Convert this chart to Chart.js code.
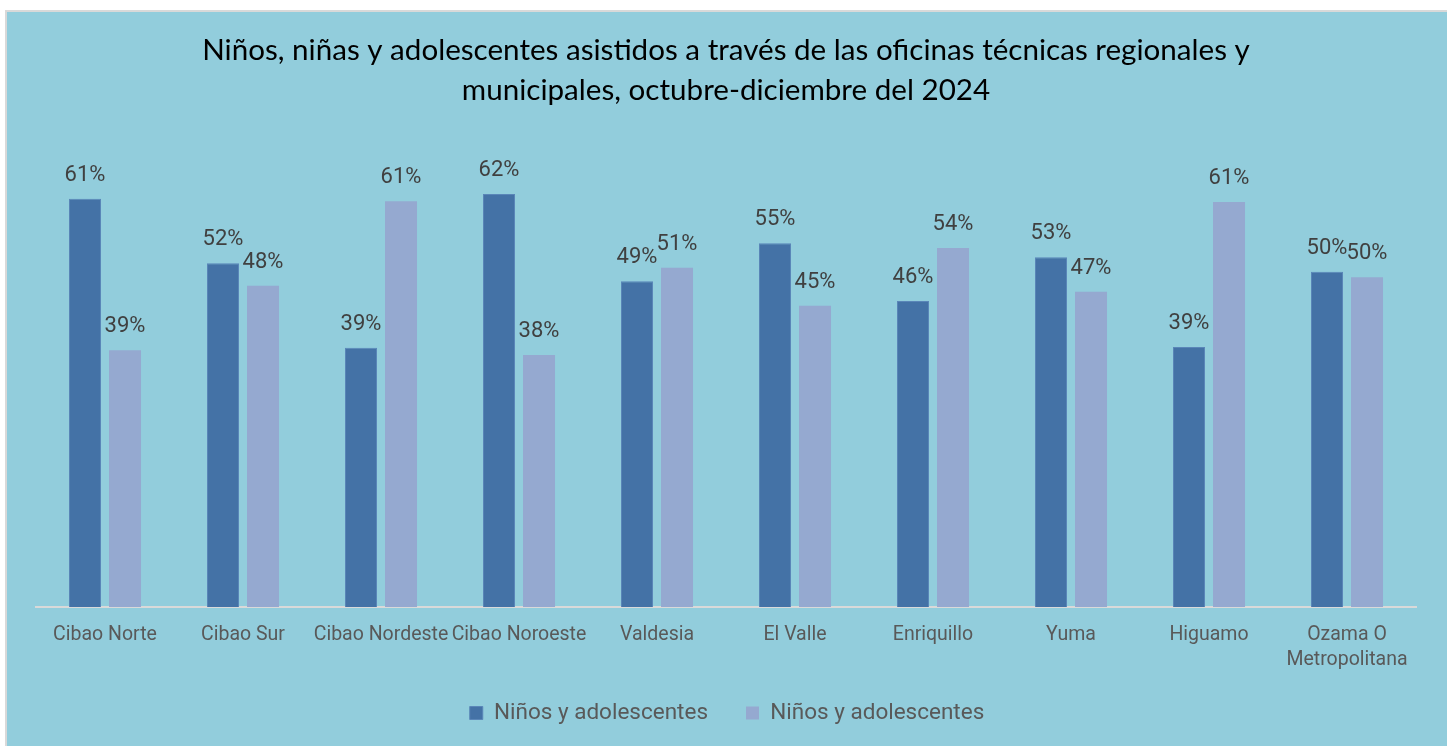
<!DOCTYPE html>
<html>
<head>
<meta charset="utf-8">
<script src="https://cdn.jsdelivr.net/npm/chart.js@4/dist/chart.umd.min.js"></script>
<style>
  html, body { margin: 0; padding: 0; background: #ffffff; overflow: hidden; }
  #box { position: absolute; left: 5px; top: 10px; border: 2px solid #D9D9D9; background: #92CDDC; width: 1442px; height: 740px; }
  canvas { display: block; }
</style>
</head>
<body>
<div id="box"><canvas id="c" width="1442" height="734"></canvas></div>
<script>
const titleLines = ['Niños, niñas y adolescentes asistidos a través de las oficinas técnicas regionales y', 'municipales, octubre-diciembre del 2024'];
const categories = ['Cibao Norte', 'Cibao Sur', 'Cibao Nordeste', 'Cibao Noroeste', 'Valdesia', 'El Valle', 'Enriquillo', 'Yuma', 'Higuamo', ['Ozama O', 'Metropolitana']];
const seriesNames = ['Niños y adolescentes', 'Niños y adolescentes'];
const seriesA = [61.4, 51.7, 39.0, 62.1, 49.0, 54.7, 46.0, 52.6, 39.1, 50.4];
const seriesB = [38.6, 48.3, 61.0, 37.9, 51.0, 45.3, 54.0, 47.4, 60.9, 49.6];
const yMax = 70;

const LEGEND_SHIFT = 1;

const layoutTweaks = {
  id: 'layoutTweaks',
  afterLayout(chart) {
    const l = chart.legend;
    if (l) { l.left += LEGEND_SHIFT; l.right += LEGEND_SHIFT; }
    // let the two-line tick label extend below the fitted axis box
    chart.scales.x.bottom += 24;
  }
};

const valueLabels = {
  id: 'valueLabels',
  afterDatasetsDraw(chart) {
    const ctx = chart.ctx;
    ctx.save();
    ctx.font = '22px Roboto';
    ctx.fillStyle = '#404040';
    ctx.textAlign = 'center';
    ctx.textBaseline = 'alphabetic';
    chart.data.datasets.forEach((ds, di) => {
      const meta = chart.getDatasetMeta(di);
      meta.data.forEach((bar, i) => {
        ctx.fillText(Math.round(ds.data[i]) + '%', bar.x, bar.y - 18);
      });
    });
    ctx.restore();
  }
};

new Chart(document.getElementById('c'), {
  type: 'bar',
  data: {
    labels: categories,
    datasets: [
      { label: seriesNames[0], data: seriesA, backgroundColor: '#4472A6', borderColor: '#5A86B8', borderWidth: 1, categoryPercentage: 0.58, barPercentage: 0.8 },
      { label: seriesNames[1], data: seriesB, backgroundColor: '#95A9D0', borderColor: '#95A9D0', borderWidth: 0, categoryPercentage: 0.58, barPercentage: 0.8 }
    ]
  },
  options: {
    responsive: false,
    animation: false,
    events: [],
    layout: { padding: { left: 29, right: 33, top: 0, bottom: 11.75 } },
    scales: {
      x: {
        grid: { display: false, drawTicks: false },
        border: { display: true, color: '#D9D9D9', width: 2 },
        ticks: { color: '#595959', font: { family: 'Roboto', size: 19.5, lineHeight: '25px' }, padding: 15.5, autoSkip: false, maxRotation: 0, minRotation: 0 },
        afterFit(scale) { scale.height = 56.75; }
      },
      y: { display: false, min: 0, max: yMax }
    },
    plugins: {
      title: {
        display: true,
        text: titleLines,
        color: '#000000',
        font: { family: 'Lato', size: 29.6, weight: 'normal', lineHeight: '40px' },
        padding: { top: 18, bottom: 31.5 }
      },
      legend: {
        display: true,
        position: 'bottom',
        labels: { color: '#595959', font: { family: 'Roboto', size: 22.5 }, boxWidth: 13, boxHeight: 13, padding: 38 }
      },
      tooltip: { enabled: false }
    }
  },
  plugins: [layoutTweaks, valueLabels]
});
</script>
</body>
</html>
